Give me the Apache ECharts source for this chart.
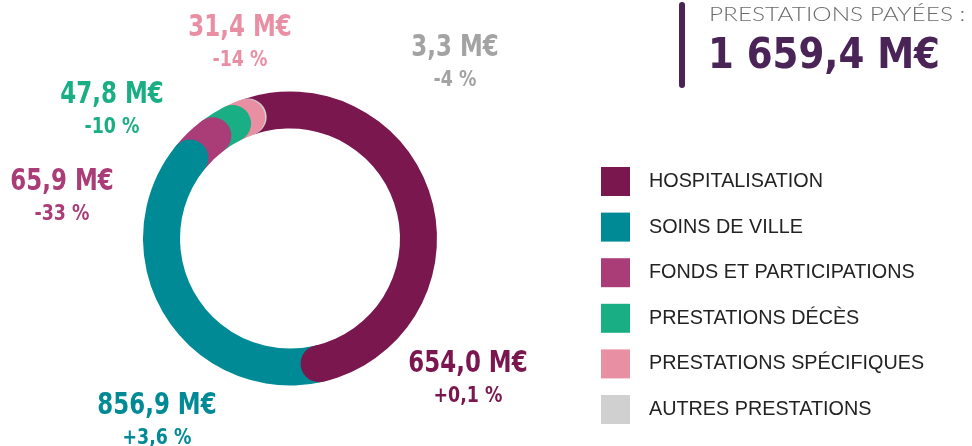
<!DOCTYPE html>
<html>
<head>
<meta charset="utf-8">
<script src="https://cdn.jsdelivr.net/npm/echarts@6.0.0/dist/echarts.min.js"></script>
<style>
  html, body { margin: 0; padding: 0; background: #fff; }
  #main { width: 972px; height: 446px; }
</style>
</head>
<body>
<div id="main"></div>
<script>
// categories (legend order = drawing order, clockwise)
var categories = ['HOSPITALISATION', 'SOINS DE VILLE', 'FONDS ET PARTICIPATIONS',
  'PRESTATIONS DÉCÈS', 'PRESTATIONS SPÉCIFIQUES', 'AUTRES PRESTATIONS'];
// arc sizes as drawn in the picture (M€)
var arcValues = [856.9, 654.0, 65.9, 47.8, 31.4, 3.3];
// texts printed next to the ring
var amountLabels = ['654,0 M€', '856,9 M€', '65,9 M€', '47,8 M€', '31,4 M€', '3,3 M€'];
var changeLabels = ['+0,1 %', '+3,6 %', '-33 %', '-10 %', '-14 %', '-4 %'];
var totalLabel = '1 659,4 M€';
var titleLabel = 'PRESTATIONS PAYÉES :';

var colors = ['#7a174e', '#008a96', '#aa3c78', '#1aae84', '#e98fa3', '#d0d0d0'];
var labelColors = ['#7a174e', '#008a96', '#aa3c78', '#1aae84', '#e98fa3', '#a3a3a3'];
// centre of each two-line label block
var labelPos = [[468, 364], [157, 406], [62, 182], [112, 95], [240, 28], [455, 48]];

var total = arcValues.reduce(function (a, b) { return a + b; }, 0);
var ringWidth = 37;
var numFont = "'DejaVu Sans Condensed', 'DejaVu Sans', sans-serif";

var myChart = echarts.init(document.getElementById('main'));

// one stacked polar bar per category
var series = categories.map(function (name, i) {
  return {
    name: name,
    type: 'bar',
    coordinateSystem: 'polar',
    stack: 'ring',
    barWidth: ringWidth,
    data: [arcValues[i]],
    itemStyle: { color: colors[i] },
    silent: true,
    z: 2
  };
});

// round end caps at the end of each arc, earlier arcs on top
var cum = [];
arcValues.reduce(function (acc, v, i) { cum[i] = acc + v; return cum[i]; }, 0);
var caps = [];
for (var i = categories.length - 1; i >= 0; i--) {
  caps.push({ value: [0, cum[i]], itemStyle: { color: colors[i], opacity: 1 } });
}
series.push({
  name: 'caps',
  type: 'scatter',
  coordinateSystem: 'polar',
  symbol: 'circle',
  symbolSize: ringWidth,
  itemStyle: { opacity: 1 },
  data: caps,
  silent: true,
  z: 3
});

var graphics = [
  { type: 'rect', shape: { x: 679, y: 2, width: 6, height: 86, r: 3 }, style: { fill: '#4a2357' } },
  { type: 'text', x: 709, y: 15, scaleX: 1.22, style: { text: titleLabel, fill: '#6b6b6b',
      font: '300 20px Lato, sans-serif', align: 'left', verticalAlign: 'middle' } },
  { type: 'text', x: 708, y: 57, scaleX: 0.96, style: { text: totalLabel, fill: '#4a2357',
      font: 'bold 43px ' + numFont, align: 'left', verticalAlign: 'middle' } }
];
labelPos.forEach(function (p, i) {
  graphics.push({ type: 'text', x: p[0], y: p[1], scaleX: 0.85, style: { text: amountLabels[i], fill: labelColors[i],
    font: 'bold 30px ' + numFont, align: 'center', verticalAlign: 'middle' } });
  graphics.push({ type: 'text', x: p[0], y: p[1] + 32, scaleX: 0.88, style: { text: changeLabels[i], fill: labelColors[i],
    font: 'bold 22px ' + numFont, align: 'center', verticalAlign: 'middle' } });
});

myChart.setOption({
  animation: false,
  polar: { center: [290, 238.5], radius: [110, 147] },
  angleAxis: { type: 'value', min: 0, max: total, startAngle: 109, clockwise: true, show: false },
  radiusAxis: { type: 'category', data: ['ring'], show: false },
  legend: {
    orient: 'vertical',
    left: 601,
    top: 167,
    padding: 0,
    itemWidth: 29,
    itemHeight: 29,
    itemGap: 16.6,
    icon: 'rect',
    selectedMode: false,
    data: categories,
    textStyle: { fontSize: 19.8, color: '#222', fontFamily: "'Liberation Sans', Arial, sans-serif", padding: [0, 0, 0, 14] }
  },
  graphic: graphics,
  series: series
});
</script>
</body>
</html>
